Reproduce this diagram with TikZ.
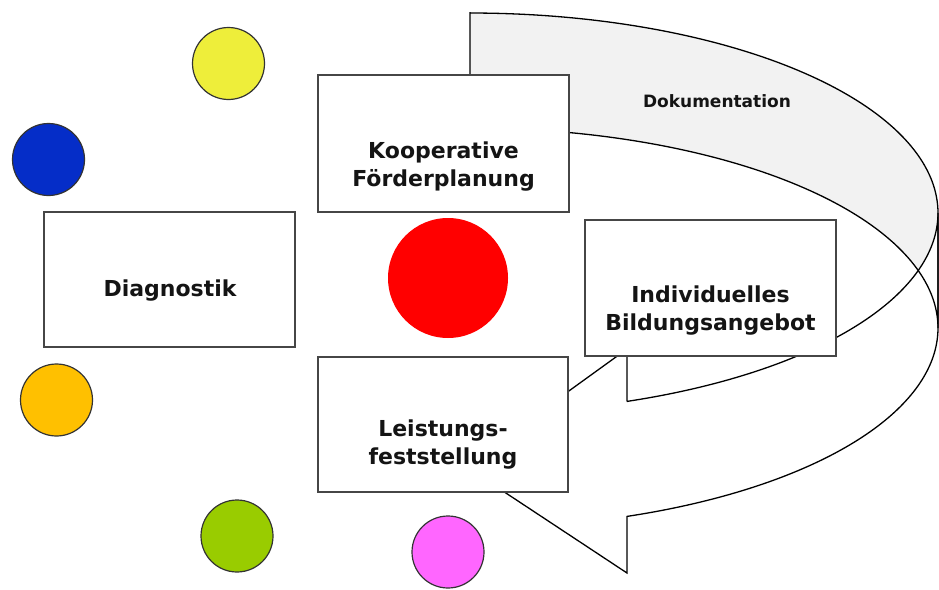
\documentclass[tikz,border=0pt]{standalone}
\usepackage{fontspec}
\setmainfont{DejaVu Sans}
\definecolor{bandgrey}{RGB}{242,242,242}
\definecolor{boxline}{RGB}{70,70,70}
\definecolor{txt}{RGB}{20,20,20}
\definecolor{cyellow}{RGB}{238,238,58}
\definecolor{cblue}{RGB}{5,45,200}
\definecolor{corange}{RGB}{255,192,0}
\definecolor{cgreen}{RGB}{153,204,0}
\definecolor{cmagenta}{RGB}{255,102,255}
\definecolor{cred}{RGB}{255,0,0}
\tikzset{
  box/.style={draw=boxline, line width=1.5pt, fill=white, rectangle, inner sep=0pt},
  lbl/.style={text=txt, align=center, inner sep=0pt, font=\fontsize{22}{28}\selectfont\bfseries},
  dot/.style={circle, draw=black!80, line width=1.2pt, minimum size=72pt, inner sep=0pt},
  arrowline/.style={draw=black, line width=1.3pt, line join=miter}
}
\begin{document}
\begin{tikzpicture}[x=1pt,y=-1pt]
\useasboundingbox (0,0) rectangle (939,589);
% curved arrow: back band (grey) and body (white)
\fill[bandgrey] (470,12) -- plot[domain=90:0,samples=80] ({470+468*cos(\x)},{213-200*sin(\x)})
  -- (938,328) -- plot[domain=0:90,samples=80] ({470+468*cos(\x)},{328-200*sin(\x)}) -- cycle;
\fill[white] (627,{213+200*sin(70.4)}) -- plot[domain=-70.4:0,samples=80] ({470+468*cos(\x)},{213-200*sin(\x)})
  -- (938,328) -- plot[domain=0:-70.4,samples=80] ({470+468*cos(\x)},{328-200*sin(\x)})
  -- (627,573) -- (465,466) -- (627,349) -- cycle;
\draw[arrowline] (470,12) -- plot[domain=90:0,samples=80] ({470+468*cos(\x)},{213-200*sin(\x)})
  -- (938,328) -- plot[domain=0:90,samples=80] ({470+468*cos(\x)},{328-200*sin(\x)}) -- cycle;
\draw[arrowline] (627,{213+200*sin(70.4)}) -- plot[domain=-70.4:0,samples=80] ({470+468*cos(\x)},{213-200*sin(\x)})
  -- (938,328) -- plot[domain=0:-70.4,samples=80] ({470+468*cos(\x)},{328-200*sin(\x)})
  -- (627,573) -- (465,466) -- (627,349) -- cycle;
\node[text=txt, inner sep=0pt, anchor=base, font=\fontsize{17}{20}\selectfont\bfseries] (doku) at (717,107) {Dokumentation};
% boxes
\node[box, minimum width=251pt, minimum height=137pt] (koop) at (443.5,143.5) {};
\node[lbl] (kooptext) at ([yshift=-23.5pt]koop.center) {Kooperative\\Förderplanung};
\node[box, minimum width=251pt, minimum height=135pt] (diag) at (169.5,279.5) {};
\node[lbl, anchor=base] (diagtext) at (170,296) {Diagnostik};
\node[box, minimum width=251pt, minimum height=136pt] (indi) at (710.5,288) {};
\node[lbl] (inditext) at ([yshift=-22.7pt]indi.center) {Individuelles\\Bildungsangebot};
\node[box, minimum width=250pt, minimum height=135pt] (leist) at (443,424.5) {};
\node[lbl] (leisttext) at ([yshift=-20.5pt]leist.center) {Leistungs-\\feststellung};
% circles
\node[circle, fill=cred, minimum size=120pt, inner sep=0pt] (red) at (448,278) {};
\node[dot, fill=cyellow] (yellow) at (228.5,63.5) {};
\node[dot, fill=cblue] (blue) at (48.5,159.5) {};
\node[dot, fill=corange] (orange) at (56.5,400) {};
\node[dot, fill=cgreen] (green) at (237,536) {};
\node[dot, fill=cmagenta] (magenta) at (448,552) {};
\end{tikzpicture}
\end{document}
